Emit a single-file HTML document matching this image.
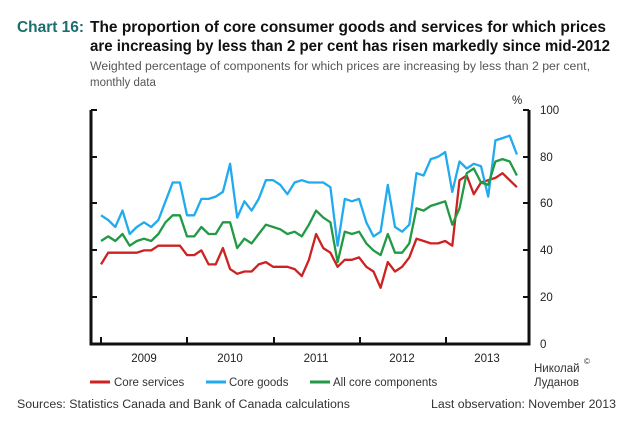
<!DOCTYPE html>
<html><head><meta charset="utf-8"><style>
body{margin:0;background:#fff;}
svg{display:block;font-family:"Liberation Sans",sans-serif;}
</style></head><body>
<svg width="625" height="423" viewBox="0 0 625 423">
<text x="17" y="32" font-size="15.5" font-weight="bold" fill="#1c6e6e" textLength="67" lengthAdjust="spacingAndGlyphs">Chart 16:</text>
<text x="90" y="32" font-size="15.5" font-weight="bold" fill="#111" textLength="516" lengthAdjust="spacingAndGlyphs">The proportion of core consumer goods and services for which prices</text>
<text x="90" y="51" font-size="15.5" font-weight="bold" fill="#111" textLength="520" lengthAdjust="spacingAndGlyphs">are increasing by less than 2 per cent has risen markedly since mid-2012</text>
<text x="90" y="70" font-size="11.5" fill="#555" textLength="500" lengthAdjust="spacingAndGlyphs">Weighted percentage of components for which prices are increasing by less than 2 per cent,</text>
<text x="90" y="86" font-size="11.5" fill="#555">monthly data</text>
<text x="512" y="104" font-size="11.5" fill="#222">%</text>
<g font-size="11.5" fill="#222">
<text x="540" y="114">100</text><text x="540" y="161">80</text><text x="540" y="207">60</text>
<text x="540" y="254">40</text><text x="540" y="301">20</text><text x="540" y="348">0</text>
</g>
<g stroke="#111" stroke-width="3" fill="none">
<polyline points="91,110 91,344 529,344 529,110"/>
</g>
<g stroke="#111" stroke-width="2">
<line x1="91" y1="110" x2="97" y2="110"/><line x1="91" y1="157" x2="97" y2="157"/><line x1="91" y1="203" x2="97" y2="203"/><line x1="91" y1="250" x2="97" y2="250"/><line x1="91" y1="297" x2="97" y2="297"/>
<line x1="523" y1="110" x2="529" y2="110"/><line x1="523" y1="157" x2="529" y2="157"/><line x1="523" y1="203" x2="529" y2="203"/><line x1="523" y1="250" x2="529" y2="250"/><line x1="523" y1="297" x2="529" y2="297"/>
<line x1="101" y1="337" x2="101" y2="344"/><line x1="187" y1="337" x2="187" y2="344"/><line x1="274" y1="337" x2="274" y2="344"/><line x1="360" y1="337" x2="360" y2="344"/><line x1="446" y1="337" x2="446" y2="344"/>
</g>
<g font-size="11.5" fill="#222" text-anchor="middle">
<text x="144" y="362">2009</text><text x="230" y="362">2010</text><text x="316" y="362">2011</text><text x="402" y="362">2012</text><text x="487" y="362">2013</text>
</g>
<g id="series" fill="none" stroke-width="2.3" stroke-linejoin="round"></g>
<g font-size="11.5" fill="#333">
<line x1="90" y1="382" x2="110" y2="382" stroke="#cc2222" stroke-width="3"/><text x="114" y="386">Core services</text>
<line x1="206" y1="382" x2="226" y2="382" stroke="#22aaee" stroke-width="3"/><text x="229" y="386">Core goods</text>
<line x1="310" y1="382" x2="330" y2="382" stroke="#229944" stroke-width="3"/><text x="333" y="386">All core components</text>
<text x="534" y="372">Николай</text><text x="584" y="364" font-size="8">©</text>
<text x="534" y="386">Луданов</text>
<text x="17" y="408" textLength="333" lengthAdjust="spacingAndGlyphs">Sources: Statistics Canada and Bank of Canada calculations</text>
<text x="431" y="408" textLength="185" lengthAdjust="spacingAndGlyphs">Last observation: November 2013</text>
</g>
</svg>
<script>
var blue=[55,53,50,57,47,50,52,50,53,61,69,69,55,55,62,62,63,65,77,54,61,57,62,70,70,68,64,69,70,69,69,69,67,42,62,61,62,52,46,48,68,50,48,51,73,72,79,80,82,65,78,75,77,76,63,87,88,89,81];
var green=[44,46,44,47,42,44,45,44,47,52,55,55,46,46,50,47,47,52,52,41,45,43,47,51,50,49,47,48,46,51,57,54,52,35,48,47,48,43,40,38,47,39,39,43,58,57,59,60,61,51,58,73,75,69,68,78,79,78,72];
var red=[34,39,39,39,39,39,40,40,42,42,42,42,38,38,40,34,34,41,32,30,31,31,34,35,33,33,33,32,29,36,47,41,39,33,36,36,37,33,31,24,35,31,33,37,45,44,43,43,44,42,70,72,64,69,70,71,73,70,67];
var g=document.getElementById('series');
[[red,'#cc2222'],[blue,'#22aaee'],[green,'#229944']].forEach(function(s){
 var pts=s[0].map(function(v,i){return (101+i*7.17).toFixed(1)+','+(344-v*2.34).toFixed(1);}).join(' ');
 var p=document.createElementNS('http://www.w3.org/2000/svg','polyline');
 p.setAttribute('points',pts);p.setAttribute('stroke',s[1]);g.appendChild(p);
});
</script>
</body></html>
